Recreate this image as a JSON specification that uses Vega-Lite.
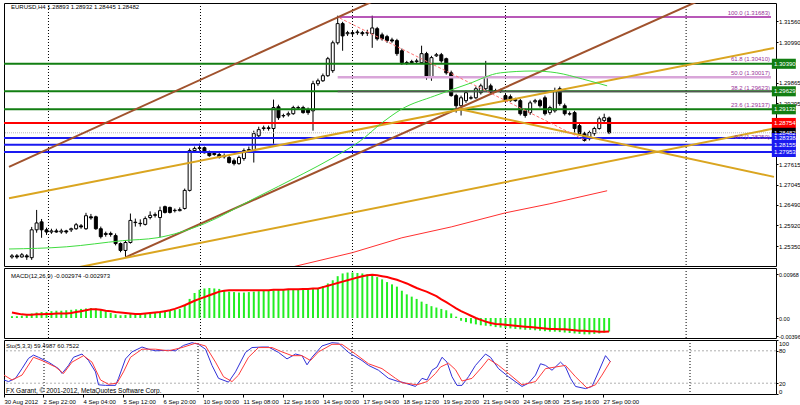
{
"$schema": "https://vega.github.io/schema/vega-lite/v6.json",
"background": "white",
"padding": {"left": 2, "top": 2, "right": 0, "bottom": 0},
"spacing": 2,
"bounds": "flush",
"config": {"view": {"stroke": "#000000", "strokeWidth": 1}, "font": "Liberation Sans",
 "axis": {"labelFontSize": 6, "labelFont": "Liberation Sans", "labelColor": "#000000", "tickSize": 2, "tickColor": "#000000", "domain": false, "grid": false, "labelPadding": 0.5, "labelFlush": false, "labelOverlap": false}},
"datasets": {
"grid": [{"i":7.4},{"i":38.2},{"i":69},{"i":100},{"i":136.6}],
"candles": [
{"i":0,"o":1.2505,"c":1.2508,"h":1.2513,"l":1.2500},
{"i":1,"o":1.2508,"c":1.2505,"h":1.2513,"l":1.2500},
{"i":2,"o":1.2505,"c":1.2511,"h":1.2516,"l":1.2503},
{"i":3,"o":1.2508,"c":1.2505,"h":1.2513,"l":1.2497},
{"i":4,"o":1.2503,"c":1.2580,"h":1.2588,"l":1.2497},
{"i":5,"o":1.2580,"c":1.2599,"h":1.2635,"l":1.2572},
{"i":6,"o":1.2602,"c":1.2580,"h":1.2610,"l":1.2558},
{"i":7,"o":1.2580,"c":1.2574,"h":1.2586,"l":1.2566},
{"i":8,"o":1.2574,"c":1.2577,"h":1.2583,"l":1.2569},
{"i":9,"o":1.2577,"c":1.2574,"h":1.2583,"l":1.2572},
{"i":10,"o":1.2574,"c":1.2577,"h":1.2583,"l":1.2569},
{"i":11,"o":1.2577,"c":1.2574,"h":1.2580,"l":1.2569},
{"i":12,"o":1.2580,"c":1.2583,"h":1.2586,"l":1.2574},
{"i":13,"o":1.2583,"c":1.2594,"h":1.2599,"l":1.2580},
{"i":14,"o":1.2591,"c":1.2588,"h":1.2596,"l":1.2583},
{"i":15,"o":1.2583,"c":1.2619,"h":1.2627,"l":1.2580},
{"i":16,"o":1.2616,"c":1.2613,"h":1.2624,"l":1.2608},
{"i":17,"o":1.2616,"c":1.2583,"h":1.2619,"l":1.2580},
{"i":18,"o":1.2583,"c":1.2561,"h":1.2589,"l":1.2556},
{"i":19,"o":1.2567,"c":1.2570,"h":1.2575,"l":1.2561},
{"i":20,"o":1.2570,"c":1.2567,"h":1.2575,"l":1.2561},
{"i":21,"o":1.2564,"c":1.2542,"h":1.2570,"l":1.2537},
{"i":22,"o":1.2542,"c":1.2523,"h":1.2545,"l":1.2518},
{"i":23,"o":1.2523,"c":1.2545,"h":1.2551,"l":1.2504},
{"i":24,"o":1.2545,"c":1.2606,"h":1.2625,"l":1.2542},
{"i":25,"o":1.2600,"c":1.2601,"h":1.2611,"l":1.2589},
{"i":26,"o":1.2598,"c":1.2597,"h":1.2609,"l":1.2589},
{"i":27,"o":1.2595,"c":1.2611,"h":1.2617,"l":1.2592},
{"i":28,"o":1.2614,"c":1.2620,"h":1.2631,"l":1.2609},
{"i":29,"o":1.2620,"c":1.2622,"h":1.2628,"l":1.2614},
{"i":30,"o":1.2614,"c":1.2633,"h":1.2644,"l":1.2559},
{"i":31,"o":1.2644,"c":1.2628,"h":1.2647,"l":1.2625},
{"i":32,"o":1.2642,"c":1.2628,"h":1.2644,"l":1.2625},
{"i":33,"o":1.2633,"c":1.2634,"h":1.2639,"l":1.2628},
{"i":34,"o":1.2633,"c":1.2636,"h":1.2642,"l":1.2631},
{"i":35,"o":1.2639,"c":1.2689,"h":1.2694,"l":1.2636},
{"i":36,"o":1.2689,"c":1.2799,"h":1.2805,"l":1.2686},
{"i":37,"o":1.2799,"c":1.2805,"h":1.2810,"l":1.2793},
{"i":38,"o":1.2805,"c":1.2807,"h":1.2818,"l":1.2799},
{"i":39,"o":1.2807,"c":1.2793,"h":1.2810,"l":1.2791},
{"i":40,"o":1.2793,"c":1.2785,"h":1.2799,"l":1.2782},
{"i":41,"o":1.2791,"c":1.2788,"h":1.2796,"l":1.2785},
{"i":42,"o":1.2788,"c":1.2780,"h":1.2793,"l":1.2777},
{"i":43,"o":1.2782,"c":1.2785,"h":1.2791,"l":1.2777},
{"i":44,"o":1.2780,"c":1.2766,"h":1.2785,"l":1.2763},
{"i":45,"o":1.2771,"c":1.2763,"h":1.2777,"l":1.2758},
{"i":46,"o":1.2763,"c":1.2780,"h":1.2785,"l":1.2760},
{"i":47,"o":1.2777,"c":1.2799,"h":1.2805,"l":1.2771},
{"i":48,"o":1.2799,"c":1.2802,"h":1.2810,"l":1.2793},
{"i":49,"o":1.2799,"c":1.2846,"h":1.2854,"l":1.2766},
{"i":50,"o":1.2840,"c":1.2857,"h":1.2865,"l":1.2835},
{"i":51,"o":1.2860,"c":1.2862,"h":1.2868,"l":1.2854},
{"i":52,"o":1.2862,"c":1.2860,"h":1.2868,"l":1.2854},
{"i":53,"o":1.2860,"c":1.2918,"h":1.2940,"l":1.2818},
{"i":54,"o":1.2920,"c":1.2890,"h":1.2926,"l":1.2884},
{"i":55,"o":1.2896,"c":1.2895,"h":1.2901,"l":1.2890},
{"i":56,"o":1.2898,"c":1.2901,"h":1.2907,"l":1.2893},
{"i":57,"o":1.2901,"c":1.2918,"h":1.2923,"l":1.2898},
{"i":58,"o":1.2918,"c":1.2917,"h":1.2923,"l":1.2912},
{"i":59,"o":1.2918,"c":1.2904,"h":1.2923,"l":1.2901},
{"i":60,"o":1.2912,"c":1.2904,"h":1.2918,"l":1.2898},
{"i":61,"o":1.2909,"c":1.2984,"h":1.2992,"l":1.2854},
{"i":62,"o":1.2984,"c":1.2992,"h":1.2998,"l":1.2978},
{"i":63,"o":1.2992,"c":1.3006,"h":1.3012,"l":1.2989},
{"i":64,"o":1.3006,"c":1.3053,"h":1.3058,"l":1.3003},
{"i":65,"o":1.3020,"c":1.3097,"h":1.3103,"l":1.3014},
{"i":66,"o":1.3097,"c":1.3150,"h":1.3172,"l":1.3092},
{"i":67,"o":1.3150,"c":1.3116,"h":1.3155,"l":1.3075},
{"i":68,"o":1.3122,"c":1.3125,"h":1.3130,"l":1.3116},
{"i":69,"o":1.3125,"c":1.3122,"h":1.3130,"l":1.3114},
{"i":70,"o":1.3125,"c":1.3127,"h":1.3133,"l":1.3119},
{"i":71,"o":1.3125,"c":1.3122,"h":1.3130,"l":1.3116},
{"i":72,"o":1.3124,"c":1.3125,"h":1.3133,"l":1.3116},
{"i":73,"o":1.3122,"c":1.3138,"h":1.3172,"l":1.3083},
{"i":74,"o":1.3136,"c":1.3108,"h":1.3141,"l":1.3103},
{"i":75,"o":1.3119,"c":1.3108,"h":1.3125,"l":1.3103},
{"i":76,"o":1.3114,"c":1.3103,"h":1.3119,"l":1.3097},
{"i":77,"o":1.3105,"c":1.3102,"h":1.3111,"l":1.3097},
{"i":78,"o":1.3103,"c":1.3067,"h":1.3108,"l":1.3061},
{"i":79,"o":1.3075,"c":1.3042,"h":1.3081,"l":1.3036},
{"i":80,"o":1.3042,"c":1.3041,"h":1.3047,"l":1.3036},
{"i":81,"o":1.3045,"c":1.3042,"h":1.3050,"l":1.3039},
{"i":82,"o":1.3045,"c":1.3047,"h":1.3053,"l":1.3039},
{"i":83,"o":1.3042,"c":1.3067,"h":1.3089,"l":1.3039},
{"i":84,"o":1.3067,"c":1.3001,"h":1.3072,"l":1.2995},
{"i":85,"o":1.3001,"c":1.3056,"h":1.3061,"l":1.2992},
{"i":86,"o":1.3061,"c":1.3064,"h":1.3069,"l":1.3058},
{"i":87,"o":1.3064,"c":1.3047,"h":1.3069,"l":1.3042},
{"i":88,"o":1.3053,"c":1.3014,"h":1.3056,"l":1.3009},
{"i":89,"o":1.3014,"c":1.2951,"h":1.3020,"l":1.2948},
{"i":90,"o":1.2951,"c":1.2923,"h":1.2956,"l":1.2904},
{"i":91,"o":1.2923,"c":1.2945,"h":1.2951,"l":1.2896},
{"i":92,"o":1.2937,"c":1.2959,"h":1.2965,"l":1.2931},
{"i":93,"o":1.2945,"c":1.2944,"h":1.2951,"l":1.2940},
{"i":94,"o":1.2945,"c":1.2970,"h":1.2976,"l":1.2942},
{"i":95,"o":1.2959,"c":1.2978,"h":1.2984,"l":1.2954},
{"i":96,"o":1.2970,"c":1.3002,"h":1.3047,"l":1.2965},
{"i":97,"o":1.2978,"c":1.2959,"h":1.2984,"l":1.2954},
{"i":98,"o":1.2964,"c":1.2965,"h":1.2970,"l":1.2959},
{"i":99,"o":1.2965,"c":1.2962,"h":1.2970,"l":1.2959},
{"i":100,"o":1.2951,"c":1.2937,"h":1.2956,"l":1.2931},
{"i":101,"o":1.2948,"c":1.2937,"h":1.2954,"l":1.2934},
{"i":102,"o":1.2940,"c":1.2937,"h":1.2945,"l":1.2934},
{"i":103,"o":1.2937,"c":1.2901,"h":1.2942,"l":1.2896},
{"i":104,"o":1.2909,"c":1.2896,"h":1.2915,"l":1.2890},
{"i":105,"o":1.2904,"c":1.2931,"h":1.2937,"l":1.2898},
{"i":106,"o":1.2934,"c":1.2937,"h":1.2942,"l":1.2929},
{"i":107,"o":1.2937,"c":1.2923,"h":1.2942,"l":1.2918},
{"i":108,"o":1.2945,"c":1.2901,"h":1.2951,"l":1.2896},
{"i":109,"o":1.2904,"c":1.2918,"h":1.2923,"l":1.2898},
{"i":110,"o":1.2909,"c":1.2965,"h":1.2973,"l":1.2904},
{"i":111,"o":1.2970,"c":1.2929,"h":1.2976,"l":1.2923},
{"i":112,"o":1.2923,"c":1.2901,"h":1.2929,"l":1.2896},
{"i":113,"o":1.2901,"c":1.2900,"h":1.2907,"l":1.2896},
{"i":114,"o":1.2904,"c":1.2860,"h":1.2909,"l":1.2849},
{"i":115,"o":1.2868,"c":1.2846,"h":1.2873,"l":1.2840},
{"i":116,"o":1.2846,"c":1.2827,"h":1.2851,"l":1.2824},
{"i":117,"o":1.2832,"c":1.2849,"h":1.2854,"l":1.2827},
{"i":118,"o":1.2846,"c":1.2860,"h":1.2865,"l":1.2840},
{"i":119,"o":1.2860,"c":1.2887,"h":1.2893,"l":1.2857},
{"i":120,"o":1.2882,"c":1.2890,"h":1.2901,"l":1.2876},
{"i":121,"o":1.28893,"c":1.28482,"h":1.28932,"l":1.28445}
],
"levels": [
{"v":1.3039,"kind":"green","label":"1.30390"},
{"v":1.29629,"kind":"green","label":"1.29629"},
{"v":1.29132,"kind":"green","label":"1.29132"},
{"v":1.28754,"kind":"red","label":"1.28754"},
{"v":1.28482,"kind":"bid","label":"1.28482"},
{"v":1.28338,"kind":"blue","label":"1.28338"},
{"v":1.28155,"kind":"blue","label":"1.28155"},
{"v":1.27953,"kind":"blue","label":"1.27953"}
],
"fib": [
{"lvl":"100.0","v":1.31683,"start":66,"label":"100.0 (1.31683)"},
{"lvl":"61.8","v":1.3041,"start":66,"label":"61.8 (1.30410)"},
{"lvl":"50.0","v":1.30017,"start":66,"label":"50.0 (1.30017)"},
{"lvl":"38.2","v":1.29623,"start":66,"label":"38.2 (1.29623)"},
{"lvl":"23.6","v":1.29137,"start":66,"label":"23.6 (1.29137)"},
{"lvl":"0.0","v":1.2825,"start":66,"label":"0.0 (1.28250)"}
],
"tl": [
{"name":"brownU","i":-0.6,"v":1.2754},{"name":"brownU","i":74,"v":1.3217},
{"name":"brownL","i":23,"v":1.2504},{"name":"brownL","i":139,"v":1.3212},
{"name":"orA","i":-0.6,"v":1.26673},{"name":"orA","i":154.4,"v":1.30827},
{"name":"orB","i":13.4,"v":1.24764},{"name":"orB","i":154.4,"v":1.28601},
{"name":"orC","i":90.6,"v":1.29142},{"name":"orC","i":154.4,"v":1.27264},
{"name":"dash","i":66.4,"v":1.31655},{"name":"dash","i":116.4,"v":1.28258}
],
"ma": [
{"name":"g","i":-0.6,"v":1.2527},{"name":"g","i":11,"v":1.2533},{"name":"g","i":22.4,"v":1.2550},{"name":"g","i":29.4,"v":1.2558},{"name":"g","i":39,"v":1.2597},{"name":"g","i":49,"v":1.2666},{"name":"g","i":59,"v":1.2735},{"name":"g","i":65,"v":1.2779},{"name":"g","i":70.6,"v":1.2826},{"name":"g","i":75,"v":1.2876},{"name":"g","i":79,"v":1.2914},{"name":"g","i":85.6,"v":1.2950},{"name":"g","i":92.4,"v":1.2983},{"name":"g","i":99,"v":1.3014},{"name":"g","i":105.6,"v":1.3019},{"name":"g","i":110.4,"v":1.3014},{"name":"g","i":115.6,"v":1.2997},{"name":"g","i":120.6,"v":1.2978},
{"name":"r","i":57,"v":1.2478},{"name":"r","i":69,"v":1.2517},{"name":"r","i":79,"v":1.2558},{"name":"r","i":89,"v":1.2588},{"name":"r","i":100,"v":1.2627},{"name":"r","i":109,"v":1.2652},{"name":"r","i":120.6,"v":1.2688}
],
"macd": [
{"i":0,"h":0.0004,"s":0.0012},{"i":1,"h":0.0004,"s":0.0010},{"i":2,"h":0.0005,"s":0.0008},{"i":3,"h":0.0006,"s":0.0007},{"i":4,"h":0.0010,"s":0.0007},{"i":5,"h":0.0012,"s":0.0008},{"i":6,"h":0.0013,"s":0.0008},{"i":7,"h":0.0013,"s":0.0009},{"i":8,"h":0.0015,"s":0.0009},{"i":9,"h":0.0016,"s":0.0010},
{"i":10,"h":0.0016,"s":0.0010},{"i":11,"h":0.0017,"s":0.0010},{"i":12,"h":0.0018,"s":0.0011},{"i":13,"h":0.0019,"s":0.0013},{"i":14,"h":0.0020,"s":0.0015},{"i":15,"h":0.0021,"s":0.0017},{"i":16,"h":0.0022,"s":0.0019},{"i":17,"h":0.0021,"s":0.0019},{"i":18,"h":0.0019,"s":0.0018},{"i":19,"h":0.0015,"s":0.0016},
{"i":20,"h":0.0011,"s":0.0015},{"i":21,"h":0.0008,"s":0.0013},{"i":22,"h":0.0006,"s":0.0012},{"i":23,"h":0.0007,"s":0.0011},{"i":24,"h":0.0009,"s":0.0010},{"i":25,"h":0.0010,"s":0.0009},{"i":26,"h":0.0010,"s":0.0009},{"i":27,"h":0.0010,"s":0.0010},{"i":28,"h":0.0010,"s":0.0011},{"i":29,"h":0.0011,"s":0.0012},
{"i":30,"h":0.0014,"s":0.0013},{"i":31,"h":0.0016,"s":0.0015},{"i":32,"h":0.0017,"s":0.0017},{"i":33,"h":0.0018,"s":0.0020},{"i":34,"h":0.0020,"s":0.0024},{"i":35,"h":0.0028,"s":0.0028},{"i":36,"h":0.0042,"s":0.0033},{"i":37,"h":0.0055,"s":0.0038},{"i":38,"h":0.0062,"s":0.0042},{"i":39,"h":0.0065,"s":0.0046},
{"i":40,"h":0.0066,"s":0.0050},{"i":41,"h":0.0065,"s":0.0054},{"i":42,"h":0.0064,"s":0.0058},{"i":43,"h":0.0060,"s":0.0060},{"i":44,"h":0.0058,"s":0.0061},{"i":45,"h":0.0057,"s":0.0061},{"i":46,"h":0.0056,"s":0.0061},{"i":47,"h":0.0056,"s":0.0061},{"i":48,"h":0.0057,"s":0.0061},{"i":49,"h":0.0058,"s":0.0061},
{"i":50,"h":0.0059,"s":0.0061},{"i":51,"h":0.0060,"s":0.0061},{"i":52,"h":0.0061,"s":0.0061},{"i":53,"h":0.0061,"s":0.0062},{"i":54,"h":0.0062,"s":0.0062},{"i":55,"h":0.0062,"s":0.0062},{"i":56,"h":0.0062,"s":0.0063},{"i":57,"h":0.0062,"s":0.0063},{"i":58,"h":0.0063,"s":0.0063},{"i":59,"h":0.0063,"s":0.0064},
{"i":60,"h":0.0063,"s":0.0064},{"i":61,"h":0.0064,"s":0.0065},{"i":62,"h":0.0066,"s":0.0065},{"i":63,"h":0.0070,"s":0.0068},{"i":64,"h":0.0076,"s":0.0071},{"i":65,"h":0.0083,"s":0.0074},{"i":66,"h":0.0092,"s":0.0077},{"i":67,"h":0.0098,"s":0.0080},{"i":68,"h":0.0100,"s":0.0083},{"i":69,"h":0.0100,"s":0.0086},
{"i":70,"h":0.0099,"s":0.0089},{"i":71,"h":0.0098,"s":0.0092},{"i":72,"h":0.0096,"s":0.0094},{"i":73,"h":0.0093,"s":0.0095},{"i":74,"h":0.0090,"s":0.0094},{"i":75,"h":0.0085,"s":0.0092},{"i":76,"h":0.0079,"s":0.0090},{"i":77,"h":0.0074,"s":0.0087},{"i":78,"h":0.0069,"s":0.0084},{"i":79,"h":0.0060,"s":0.0080},
{"i":80,"h":0.0052,"s":0.0076},{"i":81,"h":0.0047,"s":0.0071},{"i":82,"h":0.0042,"s":0.0066},{"i":83,"h":0.0036,"s":0.0062},{"i":84,"h":0.0031,"s":0.0058},{"i":85,"h":0.0026,"s":0.0053},{"i":86,"h":0.0023,"s":0.0048},{"i":87,"h":0.0020,"s":0.0041},{"i":88,"h":0.0017,"s":0.0035},{"i":89,"h":0.0010,"s":0.0028},
{"i":90,"h":0.0003,"s":0.0021},{"i":91,"h":-0.0006,"s":0.0015},{"i":92,"h":-0.0009,"s":0.0010},{"i":93,"h":-0.0012,"s":0.0005},{"i":94,"h":-0.0014,"s":0.0000},{"i":95,"h":-0.0016,"s":-0.0004},{"i":96,"h":-0.0017,"s":-0.0008},{"i":97,"h":-0.0018,"s":-0.0011},{"i":98,"h":-0.0020,"s":-0.0013},{"i":99,"h":-0.0021,"s":-0.0014},
{"i":100,"h":-0.0022,"s":-0.0015},{"i":101,"h":-0.0023,"s":-0.0016},{"i":102,"h":-0.0024,"s":-0.0017},{"i":103,"h":-0.0025,"s":-0.0018},{"i":104,"h":-0.0026,"s":-0.0019},{"i":105,"h":-0.0026,"s":-0.0020},{"i":106,"h":-0.0027,"s":-0.0021},{"i":107,"h":-0.0028,"s":-0.0022},{"i":108,"h":-0.0029,"s":-0.0023},{"i":109,"h":-0.0030,"s":-0.0024},
{"i":110,"h":-0.0030,"s":-0.0024},{"i":111,"h":-0.0031,"s":-0.0025},{"i":112,"h":-0.0032,"s":-0.0025},{"i":113,"h":-0.0033,"s":-0.0026},{"i":114,"h":-0.0034,"s":-0.0027},{"i":115,"h":-0.0035,"s":-0.0028},{"i":116,"h":-0.0036,"s":-0.0028},{"i":117,"h":-0.0036,"s":-0.0029},{"i":118,"h":-0.0035,"s":-0.0029},{"i":119,"h":-0.0034,"s":-0.0030},
{"i":120,"h":-0.0032,"s":-0.0030},{"i":121,"h":-0.00297,"s":-0.00297}
],
"stochK": [
{"i":-0.6,"v":26},{"i":0.3,"v":23},{"i":1.7,"v":29},{"i":3,"v":47},{"i":4.3,"v":66},{"i":5.3,"v":72},{"i":6.3,"v":68},{"i":8.3,"v":59},{"i":10.3,"v":47},{"i":11,"v":38},{"i":12.3,"v":53},{"i":13.3,"v":68},{"i":15,"v":74},{"i":16.3,"v":62},{"i":17.7,"v":41},{"i":18.3,"v":17},{"i":19.7,"v":16},{"i":21.7,"v":16},{"i":22.3,"v":29},{"i":23.7,"v":65},{"i":25,"v":78},{"i":27,"v":87},{"i":28.3,"v":83},{"i":29.7,"v":80},{"i":32.3,"v":81},{"i":33.7,"v":80},{"i":35.3,"v":90},{"i":37,"v":95},{"i":38.3,"v":92},{"i":39.7,"v":83},{"i":41,"v":53},{"i":42.3,"v":29},{"i":44.3,"v":22},{"i":45.7,"v":41},{"i":47.7,"v":77},{"i":49,"v":86},{"i":51,"v":87},{"i":52.3,"v":87},{"i":54.3,"v":77},{"i":56,"v":65},{"i":57.7,"v":74},{"i":59,"v":71},{"i":60,"v":54},{"i":61,"v":68},{"i":63,"v":89},{"i":65,"v":95},{"i":66.3,"v":94},{"i":68.3,"v":77},{"i":71,"v":62},{"i":72.3,"v":53},{"i":74.3,"v":44},{"i":76.3,"v":29},{"i":78.3,"v":23},{"i":79,"v":22},{"i":81.7,"v":14},{"i":83,"v":29},{"i":84,"v":26},{"i":85,"v":44},{"i":86,"v":50},{"i":87,"v":68},{"i":88,"v":59},{"i":89,"v":32},{"i":90,"v":16},{"i":91,"v":16},{"i":92.3,"v":32},{"i":93.7,"v":53},{"i":95.7,"v":74},{"i":96.7,"v":68},{"i":98.3,"v":47},{"i":100.3,"v":32},{"i":103,"v":14},{"i":104.3,"v":20},{"i":105.7,"v":35},{"i":106.7,"v":56},{"i":107.7,"v":53},{"i":109,"v":44},{"i":110.7,"v":59},{"i":111.7,"v":50},{"i":112.7,"v":29},{"i":113.7,"v":14},{"i":115.7,"v":10},{"i":117,"v":14},{"i":118.3,"v":41},{"i":119.7,"v":71},{"i":120.7,"v":59.5}
],
"stochD": [
{"i":-0.6,"v":35},{"i":1,"v":26},{"i":3,"v":35},{"i":5.3,"v":68},{"i":7,"v":62},{"i":9.7,"v":50},{"i":11.3,"v":38},{"i":13,"v":59},{"i":15.3,"v":71},{"i":17,"v":59},{"i":18.7,"v":26},{"i":20.3,"v":18},{"i":22,"v":20},{"i":23.3,"v":41},{"i":24.7,"v":68},{"i":27,"v":83},{"i":29.7,"v":83},{"i":32.3,"v":80},{"i":35,"v":86},{"i":37.7,"v":94},{"i":39.7,"v":89},{"i":41.7,"v":59},{"i":43.3,"v":32},{"i":45,"v":23},{"i":46.3,"v":35},{"i":48.3,"v":68},{"i":50.3,"v":86},{"i":53,"v":86},{"i":55,"v":78},{"i":57,"v":71},{"i":59,"v":71},{"i":60.7,"v":62},{"i":62.3,"v":78},{"i":65,"v":92},{"i":67,"v":92},{"i":69.7,"v":74},{"i":72.3,"v":56},{"i":75,"v":47},{"i":77.7,"v":29},{"i":79,"v":21},{"i":82,"v":17},{"i":84,"v":23},{"i":85.7,"v":38},{"i":86.7,"v":50},{"i":88.3,"v":57},{"i":89.7,"v":45},{"i":91,"v":24},{"i":93,"v":29},{"i":95,"v":50},{"i":96.3,"v":65},{"i":98.3,"v":53},{"i":100.3,"v":38},{"i":103,"v":17},{"i":105.7,"v":23},{"i":107.7,"v":47},{"i":109.7,"v":50},{"i":111.7,"v":53},{"i":113.7,"v":32},{"i":116,"v":11},{"i":117.7,"v":17},{"i":119,"v":35},{"i":120.7,"v":60.8}
]
},
"vconcat": [
{
"width": 772, "height": 263,
"layer": [
{"data": {"name": "grid"}, "mark": {"type": "rule", "color": "#000000", "strokeDash": [1, 2], "strokeWidth": 1},
 "encoding": {"x": {"field": "i", "type": "quantitative", "scale": {"domain": [-0.6, 153.8], "nice": false, "zero": false}, "axis": null}}},
{"data": {"name": "candles"}, "mark": {"type": "rule", "color": "#000000", "strokeWidth": 1},
 "encoding": {"x": {"field": "i", "type": "quantitative", "scale": {"domain": [-0.6, 153.8], "nice": false, "zero": false}, "axis": null},
  "y": {"field": "l", "type": "quantitative", "scale": {"domain": [1.248, 1.3207], "nice": false, "zero": false},
   "axis": {"orient": "right", "values": [1.3156, 1.3099, 1.29865, 1.29295, 1.27615, 1.27045, 1.2649, 1.2592, 1.2535, 1.2479], "format": ".5f", "title": null}},
  "y2": {"field": "h"}}},
{"data": {"name": "candles"}, "mark": {"type": "bar", "size": 3, "stroke": "#000000", "strokeWidth": 1},
 "encoding": {"x": {"field": "i", "type": "quantitative", "scale": {"domain": [-0.6, 153.8], "nice": false, "zero": false}, "axis": null},
  "y": {"field": "o", "type": "quantitative", "scale": {"domain": [1.248, 1.3207], "nice": false, "zero": false},
   "axis": {"orient": "right", "values": [1.3156, 1.3099, 1.29865, 1.29295, 1.27615, 1.27045, 1.2649, 1.2592, 1.2535, 1.2479], "format": ".5f", "title": null}},
  "y2": {"field": "c"},
  "fill": {"condition": {"test": "datum.c >= datum.o", "value": "#ffffff"}, "value": "#000000"}}},
{"data": {"name": "levels"}, "transform": [{"filter": "datum.kind != 'bid'"}], "mark": {"type": "rule", "strokeWidth": 2},
 "encoding": {"y": {"field": "v", "type": "quantitative", "scale": {"domain": [1.248, 1.3207], "nice": false, "zero": false},
   "axis": {"orient": "right", "values": [1.3156, 1.3099, 1.29865, 1.29295, 1.27615, 1.27045, 1.2649, 1.2592, 1.2535, 1.2479], "format": ".5f", "title": null}},
  "color": {"field": "kind", "type": "nominal", "scale": {"domain": ["green", "red", "blue", "bid"], "range": ["#127e12", "#ff0000", "#1a1af0", "#000000"]}, "legend": null}}},
{"data": {"name": "levels"}, "transform": [{"filter": "datum.kind == 'bid'"}], "mark": {"type": "rule", "strokeWidth": 1, "color": "#b8b8b8", "strokeDash": [1, 1]},
 "encoding": {"y": {"field": "v", "type": "quantitative", "scale": {"domain": [1.248, 1.3207], "nice": false, "zero": false},
   "axis": {"orient": "right", "values": [1.3156, 1.3099, 1.29865, 1.29295, 1.27615, 1.27045, 1.2649, 1.2592, 1.2535, 1.2479], "format": ".5f", "title": null}}}},
{"data": {"name": "fib"}, "transform": [{"filter": "datum.lvl == '100.0' || datum.lvl == '50.0' || datum.lvl == '38.2'"}], "mark": {"type": "rule"},
 "encoding": {"x": {"field": "start", "type": "quantitative", "scale": {"domain": [-0.6, 153.8], "nice": false, "zero": false}, "axis": null},
  "x2": {"datum": 153.8},
  "y": {"field": "v", "type": "quantitative", "scale": {"domain": [1.248, 1.3207], "nice": false, "zero": false},
   "axis": {"orient": "right", "values": [1.3156, 1.3099, 1.29865, 1.29295, 1.27615, 1.27045, 1.2649, 1.2592, 1.2535, 1.2479], "format": ".5f", "title": null}},
  "color": {"condition": [{"test": "datum.lvl == '100.0'", "value": "#a020a0"}, {"test": "datum.lvl == '50.0'", "value": "#d9a6d9"}], "value": "#555555"},
  "strokeWidth": {"condition": {"test": "datum.lvl == '50.0'", "value": 2.5}, "value": 1.5}}},
{"data": {"name": "tl"}, "transform": [{"filter": "datum.name == 'brownU' || datum.name == 'brownL'"}], "mark": {"type": "line", "color": "#a0522d", "strokeWidth": 2, "clip": true},
 "encoding": {"x": {"field": "i", "type": "quantitative", "scale": {"domain": [-0.6, 153.8], "nice": false, "zero": false}, "axis": null},
  "y": {"field": "v", "type": "quantitative", "scale": {"domain": [1.248, 1.3207], "nice": false, "zero": false},
   "axis": {"orient": "right", "values": [1.3156, 1.3099, 1.29865, 1.29295, 1.27615, 1.27045, 1.2649, 1.2592, 1.2535, 1.2479], "format": ".5f", "title": null}},
  "detail": {"field": "name"}}},
{"data": {"name": "tl"}, "transform": [{"filter": "datum.name == 'orA' || datum.name == 'orB' || datum.name == 'orC'"}], "mark": {"type": "line", "color": "#daa520", "strokeWidth": 2, "clip": true},
 "encoding": {"x": {"field": "i", "type": "quantitative", "scale": {"domain": [-0.6, 153.8], "nice": false, "zero": false}, "axis": null},
  "y": {"field": "v", "type": "quantitative", "scale": {"domain": [1.248, 1.3207], "nice": false, "zero": false},
   "axis": {"orient": "right", "values": [1.3156, 1.3099, 1.29865, 1.29295, 1.27615, 1.27045, 1.2649, 1.2592, 1.2535, 1.2479], "format": ".5f", "title": null}},
  "detail": {"field": "name"}}},
{"data": {"name": "tl"}, "transform": [{"filter": "datum.name == 'dash'"}], "mark": {"type": "line", "color": "#ff7070", "strokeWidth": 1, "strokeDash": [3, 2], "clip": true},
 "encoding": {"x": {"field": "i", "type": "quantitative", "scale": {"domain": [-0.6, 153.8], "nice": false, "zero": false}, "axis": null},
  "y": {"field": "v", "type": "quantitative", "scale": {"domain": [1.248, 1.3207], "nice": false, "zero": false},
   "axis": {"orient": "right", "values": [1.3156, 1.3099, 1.29865, 1.29295, 1.27615, 1.27045, 1.2649, 1.2592, 1.2535, 1.2479], "format": ".5f", "title": null}}}},
{"data": {"name": "ma"}, "transform": [{"filter": "datum.name == 'g'"}], "mark": {"type": "line", "color": "#3fdc3f", "strokeWidth": 1, "clip": true, "interpolate": "monotone"},
 "encoding": {"x": {"field": "i", "type": "quantitative", "scale": {"domain": [-0.6, 153.8], "nice": false, "zero": false}, "axis": null},
  "y": {"field": "v", "type": "quantitative", "scale": {"domain": [1.248, 1.3207], "nice": false, "zero": false},
   "axis": {"orient": "right", "values": [1.3156, 1.3099, 1.29865, 1.29295, 1.27615, 1.27045, 1.2649, 1.2592, 1.2535, 1.2479], "format": ".5f", "title": null}}}},
{"data": {"name": "ma"}, "transform": [{"filter": "datum.name == 'r'"}], "mark": {"type": "line", "color": "#ff3030", "strokeWidth": 1, "clip": true},
 "encoding": {"x": {"field": "i", "type": "quantitative", "scale": {"domain": [-0.6, 153.8], "nice": false, "zero": false}, "axis": null},
  "y": {"field": "v", "type": "quantitative", "scale": {"domain": [1.248, 1.3207], "nice": false, "zero": false},
   "axis": {"orient": "right", "values": [1.3156, 1.3099, 1.29865, 1.29295, 1.27615, 1.27045, 1.2649, 1.2592, 1.2535, 1.2479], "format": ".5f", "title": null}}}},
{"data": {"name": "fib"}, "mark": {"type": "text", "align": "right", "baseline": "alphabetic", "dy": -2, "fontSize": 6, "color": "#993399", "font": "Liberation Sans"},
 "encoding": {"x": {"datum": 153.6, "type": "quantitative", "scale": {"domain": [-0.6, 153.8], "nice": false, "zero": false}, "axis": null},
  "y": {"field": "v", "type": "quantitative", "scale": {"domain": [1.248, 1.3207], "nice": false, "zero": false},
   "axis": {"orient": "right", "values": [1.3156, 1.3099, 1.29865, 1.29295, 1.27615, 1.27045, 1.2649, 1.2592, 1.2535, 1.2479], "format": ".5f", "title": null}},
  "text": {"field": "label"}}},
{"data": {"name": "levels"}, "mark": {"type": "point", "shape": "M-1,-0.42H1V0.42H-1Z", "size": 576, "filled": true, "opacity": 1, "strokeWidth": 0},
 "encoding": {"x": {"datum": 156.4, "type": "quantitative", "scale": {"domain": [-0.6, 153.8], "nice": false, "zero": false}, "axis": null},
  "y": {"field": "v", "type": "quantitative", "scale": {"domain": [1.248, 1.3207], "nice": false, "zero": false},
   "axis": {"orient": "right", "values": [1.3156, 1.3099, 1.29865, 1.29295, 1.27615, 1.27045, 1.2649, 1.2592, 1.2535, 1.2479], "format": ".5f", "title": null}},
  "color": {"field": "kind", "type": "nominal", "scale": {"domain": ["green", "red", "blue", "bid"], "range": ["#127e12", "#ff0000", "#1a1af0", "#000000"]}, "legend": null}}},
{"data": {"name": "levels"}, "mark": {"type": "text", "align": "left", "baseline": "middle", "fontSize": 6, "color": "#ffffff", "font": "Liberation Sans"},
 "encoding": {"x": {"datum": 154.4, "type": "quantitative", "scale": {"domain": [-0.6, 153.8], "nice": false, "zero": false}, "axis": null},
  "y": {"field": "v", "type": "quantitative", "scale": {"domain": [1.248, 1.3207], "nice": false, "zero": false},
   "axis": {"orient": "right", "values": [1.3156, 1.3099, 1.29865, 1.29295, 1.27615, 1.27045, 1.2649, 1.2592, 1.2535, 1.2479], "format": ".5f", "title": null}},
  "text": {"field": "label"}}},
{"data": {"values": [{}]}, "mark": {"type": "text", "align": "left", "baseline": "middle", "fontSize": 6, "color": "#000000", "font": "Liberation Sans"},
 "encoding": {"x": {"datum": -0.2, "type": "quantitative", "scale": {"domain": [-0.6, 153.8], "nice": false, "zero": false}, "axis": null},
  "y": {"datum": 1.3195, "type": "quantitative", "scale": {"domain": [1.248, 1.3207], "nice": false, "zero": false},
   "axis": {"orient": "right", "values": [1.3156, 1.3099, 1.29865, 1.29295, 1.27615, 1.27045, 1.2649, 1.2592, 1.2535, 1.2479], "format": ".5f", "title": null}},
  "text": {"value": "EURUSD,H4  1.28893 1.28932 1.28445 1.28482"}}}
]
},
{
"width": 772, "height": 70,
"layer": [
{"data": {"name": "grid"}, "mark": {"type": "rule", "color": "#000000", "strokeDash": [1, 2], "strokeWidth": 1},
 "encoding": {"x": {"field": "i", "type": "quantitative", "scale": {"domain": [-0.6, 153.8], "nice": false, "zero": false}, "axis": null}}},
{"data": {"name": "macd"}, "mark": {"type": "bar", "size": 2, "color": "#22ee22"},
 "encoding": {"x": {"field": "i", "type": "quantitative", "scale": {"domain": [-0.6, 153.8], "nice": false, "zero": false}, "axis": null},
  "y": {"field": "h", "type": "quantitative", "scale": {"domain": [-0.0044, 0.011], "nice": false, "zero": false},
   "axis": {"orient": "right", "values": [0.00968, 0, -0.00396], "labelFontSize": 5.5, "labelExpr": "datum.value == 0 ? '0.00' : (datum.value < 0 ? '-' + format(-datum.value, '.5f') : format(datum.value, '.5f'))", "title": null}},
  "y2": {"datum": 0}}},
{"data": {"name": "macd"}, "mark": {"type": "line", "color": "#ff0000", "strokeWidth": 2},
 "encoding": {"x": {"field": "i", "type": "quantitative", "scale": {"domain": [-0.6, 153.8], "nice": false, "zero": false}, "axis": null},
  "y": {"field": "s", "type": "quantitative", "scale": {"domain": [-0.0044, 0.011], "nice": false, "zero": false},
   "axis": {"orient": "right", "values": [0.00968, 0, -0.00396], "labelFontSize": 5.5, "labelExpr": "datum.value == 0 ? '0.00' : (datum.value < 0 ? '-' + format(-datum.value, '.5f') : format(datum.value, '.5f'))", "title": null}}}},
{"data": {"values": [{}]}, "mark": {"type": "text", "align": "left", "baseline": "middle", "fontSize": 6, "color": "#000000", "font": "Liberation Sans"},
 "encoding": {"x": {"datum": -0.2, "type": "quantitative", "scale": {"domain": [-0.6, 153.8], "nice": false, "zero": false}, "axis": null},
  "y": {"datum": 0.0092, "type": "quantitative", "scale": {"domain": [-0.0044, 0.011], "nice": false, "zero": false},
   "axis": {"orient": "right", "values": [0.00968, 0, -0.00396], "labelFontSize": 5.5, "labelExpr": "datum.value == 0 ? '0.00' : (datum.value < 0 ? '-' + format(-datum.value, '.5f') : format(datum.value, '.5f'))", "title": null}},
  "text": {"value": "MACD(12,26,9) -0.002974 -0.002973"}}}
]
},
{
"width": 772, "height": 54,
"layer": [
{"data": {"name": "grid"}, "mark": {"type": "rule", "color": "#000000", "strokeDash": [1, 2], "strokeWidth": 1},
 "encoding": {"x": {"field": "i", "type": "quantitative", "scale": {"domain": [-0.6, 153.8], "nice": false, "zero": false},
  "axis": {"orient": "bottom", "values": [-0.6, 7.2, 15.2, 23.2, 31.2, 39.2, 47.2, 55.2, 63.2, 71.2, 79.2, 87.2, 95.2, 103.2, 111.2, 119.2], "labelExpr": "['30 Aug 2012','2 Sep 22:00','4 Sep 04:00','5 Sep 12:00','6 Sep 20:00','10 Sep 00:00','11 Sep 08:00','12 Sep 16:00','14 Sep 00:00','17 Sep 04:00','18 Sep 12:00','19 Sep 20:00','21 Sep 04:00','24 Sep 08:00','25 Sep 16:00','27 Sep 00:00'][round((datum.value + 0.8) / 8)]", "labelAlign": "left", "tickSize": 3, "labelPadding": 1, "title": null}}}},
{"data": {"values": [{"lv": 80}, {"lv": 20}]}, "mark": {"type": "rule", "color": "#b0b0b0", "strokeDash": [2, 2], "strokeWidth": 1},
 "encoding": {"y": {"field": "lv", "type": "quantitative", "scale": {"domain": [0, 100], "nice": false, "zero": false},
  "axis": {"orient": "right", "values": [100, 80, 20, 0], "labelFlush": true, "title": null}}}},
{"data": {"name": "stochK"}, "mark": {"type": "line", "color": "#3030d8", "strokeWidth": 1, "clip": true},
 "encoding": {"x": {"field": "i", "type": "quantitative", "scale": {"domain": [-0.6, 153.8], "nice": false, "zero": false},
  "axis": {"orient": "bottom", "values": [-0.6, 7.2, 15.2, 23.2, 31.2, 39.2, 47.2, 55.2, 63.2, 71.2, 79.2, 87.2, 95.2, 103.2, 111.2, 119.2], "labelExpr": "['30 Aug 2012','2 Sep 22:00','4 Sep 04:00','5 Sep 12:00','6 Sep 20:00','10 Sep 00:00','11 Sep 08:00','12 Sep 16:00','14 Sep 00:00','17 Sep 04:00','18 Sep 12:00','19 Sep 20:00','21 Sep 04:00','24 Sep 08:00','25 Sep 16:00','27 Sep 00:00'][round((datum.value + 0.8) / 8)]", "labelAlign": "left", "tickSize": 3, "labelPadding": 1, "title": null}},
  "y": {"field": "v", "type": "quantitative", "scale": {"domain": [0, 100], "nice": false, "zero": false},
  "axis": {"orient": "right", "values": [100, 80, 20, 0], "labelFlush": true, "title": null}}}},
{"data": {"name": "stochD"}, "mark": {"type": "line", "color": "#ff3b3b", "strokeWidth": 1, "clip": true},
 "encoding": {"x": {"field": "i", "type": "quantitative", "scale": {"domain": [-0.6, 153.8], "nice": false, "zero": false},
  "axis": {"orient": "bottom", "values": [-0.6, 7.2, 15.2, 23.2, 31.2, 39.2, 47.2, 55.2, 63.2, 71.2, 79.2, 87.2, 95.2, 103.2, 111.2, 119.2], "labelExpr": "['30 Aug 2012','2 Sep 22:00','4 Sep 04:00','5 Sep 12:00','6 Sep 20:00','10 Sep 00:00','11 Sep 08:00','12 Sep 16:00','14 Sep 00:00','17 Sep 04:00','18 Sep 12:00','19 Sep 20:00','21 Sep 04:00','24 Sep 08:00','25 Sep 16:00','27 Sep 00:00'][round((datum.value + 0.8) / 8)]", "labelAlign": "left", "tickSize": 3, "labelPadding": 1, "title": null}},
  "y": {"field": "v", "type": "quantitative", "scale": {"domain": [0, 100], "nice": false, "zero": false},
  "axis": {"orient": "right", "values": [100, 80, 20, 0], "labelFlush": true, "title": null}}}},
{"data": {"values": [{}]}, "mark": {"type": "text", "align": "left", "baseline": "middle", "fontSize": 6, "color": "#000000", "font": "Liberation Sans"},
 "encoding": {"x": {"datum": -0.2, "type": "quantitative", "scale": {"domain": [-0.6, 153.8], "nice": false, "zero": false},
  "axis": {"orient": "bottom", "values": [-0.6, 7.2, 15.2, 23.2, 31.2, 39.2, 47.2, 55.2, 63.2, 71.2, 79.2, 87.2, 95.2, 103.2, 111.2, 119.2], "labelExpr": "['30 Aug 2012','2 Sep 22:00','4 Sep 04:00','5 Sep 12:00','6 Sep 20:00','10 Sep 00:00','11 Sep 08:00','12 Sep 16:00','14 Sep 00:00','17 Sep 04:00','18 Sep 12:00','19 Sep 20:00','21 Sep 04:00','24 Sep 08:00','25 Sep 16:00','27 Sep 00:00'][round((datum.value + 0.8) / 8)]", "labelAlign": "left", "tickSize": 3, "labelPadding": 1, "title": null}},
  "y": {"datum": 89, "type": "quantitative", "scale": {"domain": [0, 100], "nice": false, "zero": false},
  "axis": {"orient": "right", "values": [100, 80, 20, 0], "labelFlush": true, "title": null}},
  "text": {"value": "Sto(5,3,3) 59.4987 60.7522"}}},
{"data": {"values": [{}]}, "mark": {"type": "text", "align": "left", "baseline": "middle", "fontSize": 6.5, "color": "#000000", "font": "Liberation Sans"},
 "encoding": {"x": {"datum": -0.2, "type": "quantitative", "scale": {"domain": [-0.6, 153.8], "nice": false, "zero": false},
  "axis": {"orient": "bottom", "values": [-0.6, 7.2, 15.2, 23.2, 31.2, 39.2, 47.2, 55.2, 63.2, 71.2, 79.2, 87.2, 95.2, 103.2, 111.2, 119.2], "labelExpr": "['30 Aug 2012','2 Sep 22:00','4 Sep 04:00','5 Sep 12:00','6 Sep 20:00','10 Sep 00:00','11 Sep 08:00','12 Sep 16:00','14 Sep 00:00','17 Sep 04:00','18 Sep 12:00','19 Sep 20:00','21 Sep 04:00','24 Sep 08:00','25 Sep 16:00','27 Sep 00:00'][round((datum.value + 0.8) / 8)]", "labelAlign": "left", "tickSize": 3, "labelPadding": 1, "title": null}},
  "y": {"datum": 6, "type": "quantitative", "scale": {"domain": [0, 100], "nice": false, "zero": false},
  "axis": {"orient": "right", "values": [100, 80, 20, 0], "labelFlush": true, "title": null}},
  "text": {"value": "FX Garant, © 2001-2012, MetaQuotes Software Corp."}}}
]
}
]
}
